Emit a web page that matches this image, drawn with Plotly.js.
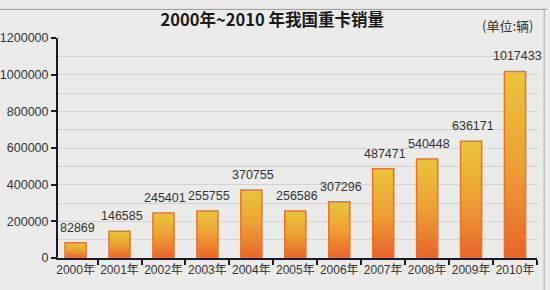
<!DOCTYPE html>
<html><head><meta charset="utf-8">
<script src="https://cdn.plot.ly/plotly-3.0.1.min.js"></script>
<style>html,body{margin:0;padding:0;background:#ebebea;}#chart{width:550px;height:290px;}</style>
</head><body><div id="chart"></div>
<script>
const years = ['2000年','2001年','2002年','2003年','2004年','2005年','2006年','2007年','2008年','2009年','2010年'];
const sales = [82869,146585,245401,255755,370755,256586,307296,487471,540448,636171,1017433];
const chartTitle = '2000年~2010 年我国重卡销量';
const unitLabel = '(单位:辆)';

const font = '"Liberation Sans", Arial, "Noto Sans CJK SC", sans-serif';
const trace = {
  type: 'bar', x: years, y: sales,
  marker: {color: '#eb9a35', line: {color: '#e8742c', width: 1.5}},
  width: 0.48, hoverinfo: 'none'
};
const valueLabels = years.map(function(yr, i){
  return {x: yr, y: sales[i], xref: 'x', yref: 'y', text: String(sales[i]), showarrow: false,
          yanchor: 'bottom', yshift: 6, xshift: 2, font: {family: font, size: 12.5, color: '#333'}};
});
const layout = {
  width: 550, height: 290,
  margin: {l: 58, r: 13, t: 38, b: 32},
  paper_bgcolor: '#ebebea', plot_bgcolor: 'rgba(0,0,0,0)',
  showlegend: false,
  title: {text: '<b>' + chartTitle + '</b>', x: 0.495, xanchor: 'center', y: 0.93, yanchor: 'middle',
          font: {family: '"Noto Sans CJK SC", sans-serif', size: 16.5, color: '#1a1a1a'}},
  xaxis: {type: 'category', range: [-0.4, 10.5], showline: true, linecolor: '#1a1a2a', linewidth: 2,
          ticks: 'outside', tickson: 'boundaries', ticklen: 5, tickwidth: 2, tickcolor: '#1a1a2a', tickangle: 0,
          tickfont: {family: font, size: 12, color: '#333'}, showgrid: false, zeroline: false},
  yaxis: {range: [0, 1200000], dtick: 200000, showline: true, linecolor: '#1a1a2a', linewidth: 2,
          ticks: 'outside', ticklen: 5, tickwidth: 2, tickcolor: '#1a1a2a', tickformat: 'd',
          tickfont: {family: font, size: 12.5, color: '#333'},
          showgrid: true, gridcolor: '#d2d2d2', gridwidth: 1, zeroline: false,
          minor: {dtick: 100000, showgrid: true, gridcolor: '#d2d2d2', gridwidth: 1}},
  annotations: valueLabels.concat([{text: unitLabel, xref: 'paper', yref: 'paper', x: 0.996, y: 1.005, xanchor: 'right', yanchor: 'bottom',
                 showarrow: false, font: {family: '"Noto Sans CJK SC", sans-serif', size: 13, color: '#333'}}]),
  shapes: [
    {type: 'line', xref: 'paper', yref: 'paper', x0: -0.2, x1: 1.02, y0: 1.13, y1: 1.13, line: {color: '#999', width: 1}},
    {type: 'line', xref: 'paper', yref: 'paper', x0: 1.015, x1: 1.015, y0: 1.13, y1: -0.15, line: {color: '#aaa', width: 1}}
  ]
};
Plotly.newPlot('chart', [trace], layout, {staticPlot: true}).then(function(gd){
  const svg = gd.querySelector('svg.main-svg');
  const ns = 'http://www.w3.org/2000/svg';
  let defs = svg.querySelector('defs');
  if (!defs) { defs = document.createElementNS(ns, 'defs'); svg.insertBefore(defs, svg.firstChild); }
  const g = document.createElementNS(ns, 'linearGradient');
  g.setAttribute('id', 'barGrad'); g.setAttribute('x1', '0'); g.setAttribute('y1', '0'); g.setAttribute('x2', '0'); g.setAttribute('y2', '1');
  [['0', '#e9c53a'], ['0.5', '#eea035'], ['1', '#e8642c']].forEach(function(s){
    const st = document.createElementNS(ns, 'stop'); st.setAttribute('offset', s[0]); st.setAttribute('stop-color', s[1]); g.appendChild(st);
  });
  defs.appendChild(g);
  gd.querySelectorAll('.bars .point path').forEach(function(p){ p.style.fill = 'url(#barGrad)'; });
});
</script></body></html>
